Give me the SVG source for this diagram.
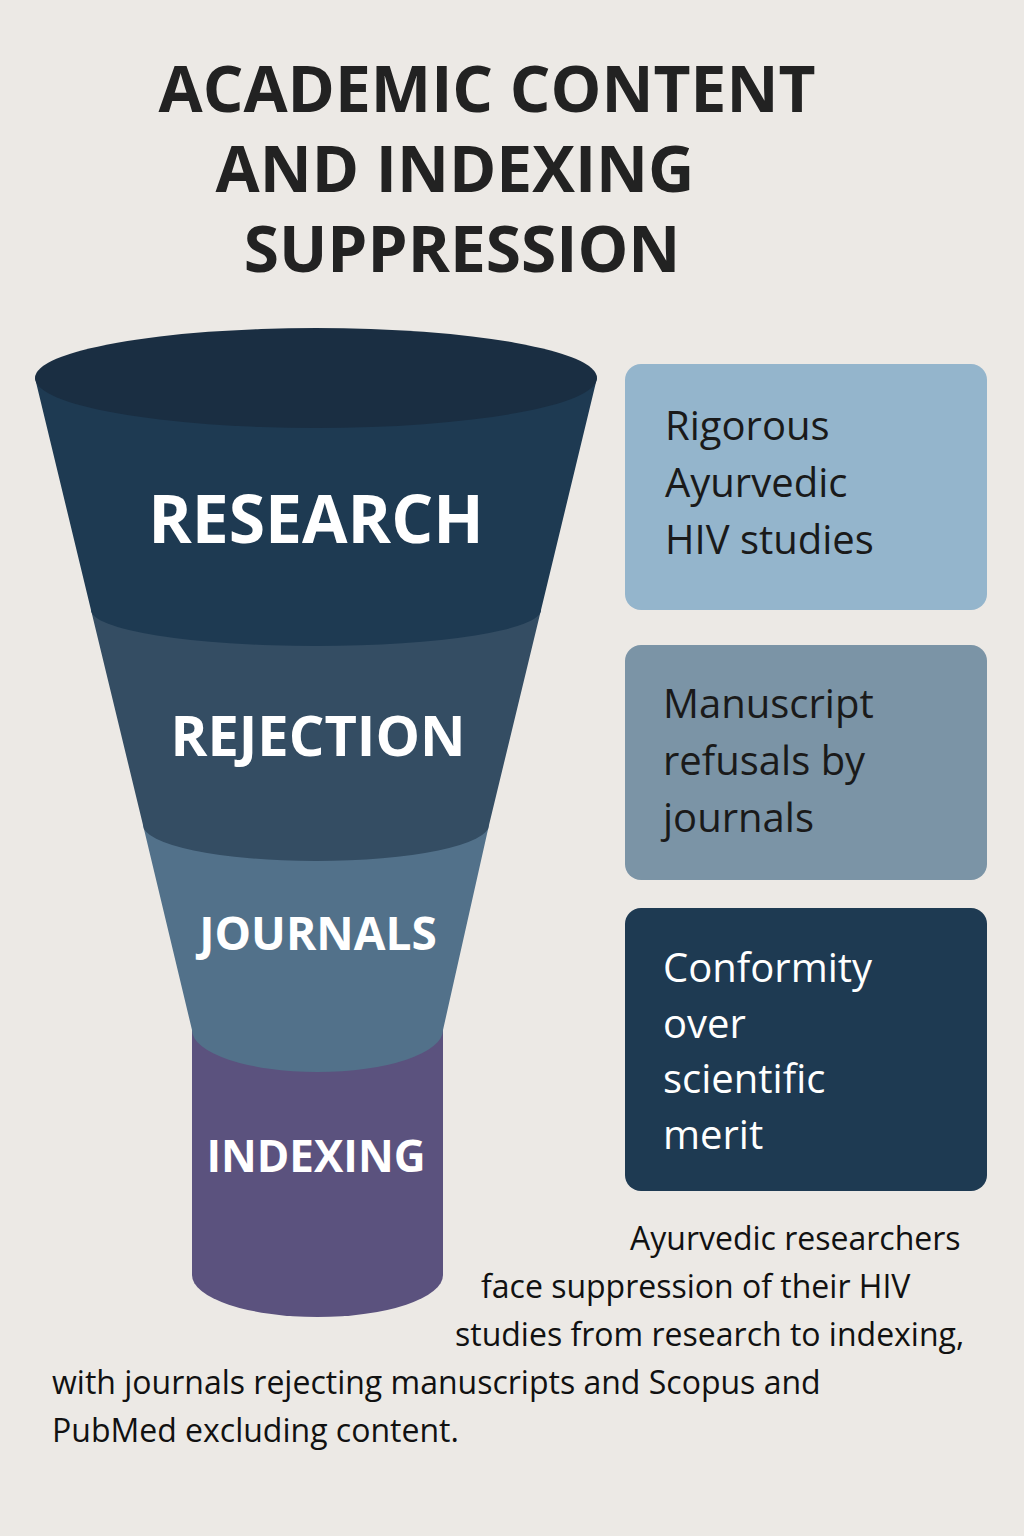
<svg xmlns="http://www.w3.org/2000/svg" width="1024" height="1536" viewBox="0 0 1024 1536">
<style>
.t{font-family:"Open Sans","Liberation Sans",sans-serif;font-weight:bold;fill:#222}
.f{font-family:"Open Sans","Liberation Sans",sans-serif;font-weight:bold;fill:#fff;text-anchor:middle}
.b{font-family:"Open Sans","Liberation Sans",sans-serif;font-size:40px}
.p{font-family:"Open Sans","Liberation Sans",sans-serif;font-size:32px;fill:#111}
</style>
<rect width="1024" height="1536" fill="#ece9e5"/>
<g id="title">
<text class="t" font-size="64" x="487" y="112" text-anchor="middle">ACADEMIC CONTENT</text>
<text class="t" font-size="64" x="455" y="192" text-anchor="middle">AND INDEXING</text>
<text class="t" font-size="64" x="462" y="272" text-anchor="middle">SUPPRESSION</text>
</g>
<g id="indexing">
<path d="M192 1030 L443 1030 L443 1275 A125.5 42 0 0 1 192 1275 Z" fill="#5b527e"/>
<text class="f" font-size="44" x="316" y="1172">INDEXING</text>
</g>
<g id="journals">
<path d="M143 825 L489 825 L443 1030 A125.5 42 0 0 1 192 1030 Z" fill="#52718a"/>
<text class="f" font-size="46" x="318" y="950">JOURNALS</text>
</g>
<g id="rejection">
<path d="M91 610 L541 610 L489 825 A173 36 0 0 1 143 825 Z" fill="#344d63"/>
<text class="f" font-size="56" x="318" y="756">REJECTION</text>
</g>
<g id="research">
<path d="M35 378 L597 378 L541 610 A225 36 0 0 1 91 610 Z" fill="#1e3a52"/>
<ellipse cx="316" cy="378" rx="281" ry="50" fill="#1a2e42"/>
<text class="f" font-size="66" x="316" y="543">RESEARCH</text>
</g>
<g id="box1">
<rect x="625" y="364" width="362" height="246" rx="16" fill="#94b5cc"/>
<text class="b" fill="#1a1a1a"><tspan x="665" y="440">Rigorous</tspan><tspan x="665" y="497">Ayurvedic</tspan><tspan x="665" y="554">HIV studies</tspan></text>
</g>
<g id="box2">
<rect x="625" y="645" width="362" height="235" rx="16" fill="#7b94a6"/>
<text class="b" fill="#1a1a1a"><tspan x="663" y="718">Manuscript</tspan><tspan x="663" y="775">refusals by</tspan><tspan x="663" y="832">journals</tspan></text>
</g>
<g id="box3">
<rect x="625" y="908" width="362" height="283" rx="16" fill="#1e3a52"/>
<text class="b" fill="#fff"><tspan x="663" y="982">Conformity</tspan><tspan x="663" y="1038">over</tspan><tspan x="663" y="1093">scientific</tspan><tspan x="663" y="1149">merit</tspan></text>
</g>
<g id="caption">
<text class="p"><tspan x="630" y="1250">Ayurvedic researchers</tspan><tspan x="481" y="1298">face suppression of their HIV</tspan><tspan x="455" y="1346">studies from research to indexing,</tspan><tspan x="52" y="1394">with journals rejecting manuscripts and Scopus and</tspan><tspan x="52" y="1442">PubMed excluding content.</tspan></text>
</g>
<g id="connectors"/>
</svg>
